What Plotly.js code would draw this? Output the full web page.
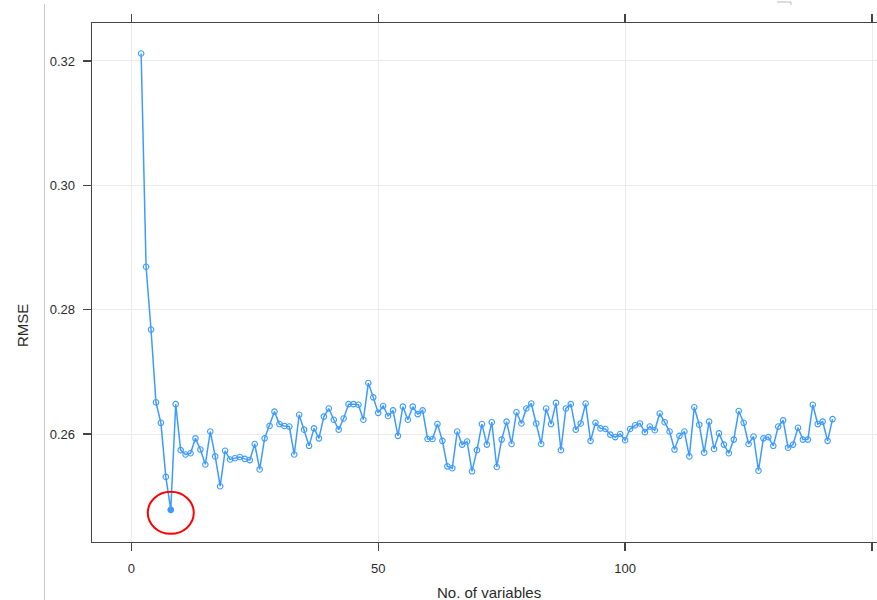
<!DOCTYPE html>
<html>
<head>
<meta charset="utf-8">
<script src="https://cdn.plot.ly/plotly-3.0.1.min.js"></script>
<style>html,body{margin:0;padding:0;background:#fff;}#chart{width:877px;height:600px;}</style>
</head>
<body>
<div id="chart"></div>
<script>
// Number of variables (x) and cross-validated RMSE (y)
const nVariables = [
  2,3,4,5,6,7,8,9,10,11,12,13,14,15,16,17,18,19,20,21,
  22,23,24,25,26,27,28,29,30,31,32,33,34,35,36,37,38,39,40,41,
  42,43,44,45,46,47,48,49,50,51,52,53,54,55,56,57,58,59,60,61,
  62,63,64,65,66,67,68,69,70,71,72,73,74,75,76,77,78,79,80,81,
  82,83,84,85,86,87,88,89,90,91,92,93,94,95,96,97,98,99,100,101,
  102,103,104,105,106,107,108,109,110,111,112,113,114,115,116,117,118,119,120,121,
  122,123,124,125,126,127,128,129,130,131,132,133,134,135,136,137,138,139,140,141,
  142
];
const rmse = [
  0.3212,0.2869,0.2768,0.2651,0.2618,0.2531,0.2478,0.2648,0.2574,0.2567,
  0.2569,0.2593,0.2575,0.2551,0.2604,0.2564,0.2516,0.2573,0.2559,0.2561,
  0.2563,0.2560,0.2558,0.2584,0.2543,0.2593,0.2613,0.2636,0.2616,0.2613,
  0.2612,0.2567,0.2631,0.2607,0.2581,0.2609,0.2593,0.2628,0.2641,0.2623,
  0.2607,0.2625,0.2648,0.2648,0.2647,0.2623,0.2682,0.2659,0.2634,0.2645,
  0.2629,0.2638,0.2597,0.2644,0.2623,0.2644,0.2632,0.2638,0.2592,0.2592,
  0.2616,0.2589,0.2548,0.2545,0.2604,0.2583,0.2588,0.2540,0.2574,0.2616,
  0.2583,0.2619,0.2547,0.2591,0.2620,0.2584,0.2635,0.2617,0.2641,0.2649,
  0.2617,0.2584,0.2641,0.2616,0.2650,0.2574,0.2641,0.2648,0.2607,0.2617,
  0.2649,0.2589,0.2618,0.2609,0.2608,0.2599,0.2595,0.2600,0.2590,0.2608,
  0.2614,0.2617,0.2603,0.2612,0.2606,0.2633,0.2619,0.2604,0.2575,0.2597,
  0.2604,0.2564,0.2643,0.2615,0.2570,0.2620,0.2576,0.2601,0.2583,0.2569,
  0.2591,0.2637,0.2618,0.2584,0.2596,0.2541,0.2593,0.2595,0.2581,0.2612,
  0.2622,0.2578,0.2583,0.2610,0.2591,0.2591,0.2647,0.2616,0.2620,0.2589,
  0.2624
];
const xTickVals = [0, 50, 100, 150];
const xTickText = ['0', '50', '100', ''];
const yTickVals = [0.26, 0.28, 0.30, 0.32];
const yTickText = ['0.26', '0.28', '0.30', '0.32'];

// best (minimum RMSE) model
let best = 0;
for (let i = 1; i < rmse.length; i++) if (rmse[i] < rmse[best]) best = i;

const blue = '#3d9bff';
const textCol = '#2b2b2b';

// layout geometry in pixels
const W = 877, H = 600, L = 92, R = 0, T = 23, B = 58;
const pw = W - L - R, ph = H - T - B;
const px = v => (v - L) / pw;          // pixel x -> paper
const py = v => (H - B - v) / ph;      // pixel y -> paper

const traces = [
  {
    x: nVariables, y: rmse, type: 'scatter', mode: 'lines+markers',
    line: {color: blue, width: 1.5},
    marker: {symbol: 'circle-open', size: 5.5, color: blue, line: {width: 1.1, color: blue}},
    hoverinfo: 'x+y', showlegend: false
  },
  {
    x: [nVariables[best]], y: [rmse[best]], type: 'scatter', mode: 'markers',
    marker: {symbol: 'circle', size: 6, color: blue},
    showlegend: false
  }
];

const layout = {
  width: W, height: H,
  margin: {l: L, r: R, t: T, b: B, pad: 0},
  paper_bgcolor: '#ffffff', plot_bgcolor: '#ffffff',
  font: {family: 'Liberation Sans, Arial, sans-serif', size: 13, color: textCol},
  showlegend: false,
  xaxis: {
    range: [-7.95, 151.0],
    tickmode: 'array', tickvals: xTickVals, ticktext: xTickText,
    ticks: 'outside', ticklen: 8, tickwidth: 1.3, tickcolor: '#444',
    showline: true, linecolor: '#444', linewidth: 1.3, mirror: 'ticks',
    showgrid: true, gridcolor: '#ebebeb', gridwidth: 1,
    zeroline: false, ticklabelstandoff: 6,
    tickfont: {size: 13, color: textCol}
  },
  yaxis: {
    range: [0.24263, 0.32611],
    tickmode: 'array', tickvals: yTickVals, ticktext: yTickText,
    ticks: 'outside', ticklen: 8, tickwidth: 1.3, tickcolor: '#444',
    showline: true, linecolor: '#444', linewidth: 1.3, mirror: false,
    showgrid: true, gridcolor: '#ebebeb', gridwidth: 1,
    zeroline: false, ticklabelstandoff: 5,
    tickfont: {size: 13, color: textCol}
  },
  annotations: [
    {text: 'RMSE', xref: 'paper', yref: 'paper', x: px(22), y: py(326),
     xanchor: 'center', yanchor: 'middle', textangle: -90, showarrow: false,
     font: {size: 15, color: textCol}},
    {text: 'No. of variables', xref: 'paper', yref: 'paper', x: px(489), y: py(592),
     xanchor: 'center', yanchor: 'middle', showarrow: false,
     font: {size: 15, color: textCol}}
  ],
  shapes: [
    {type: 'circle', xref: 'x', yref: 'y', xsizemode: 'pixel', ysizemode: 'pixel',
     xanchor: nVariables[best], yanchor: rmse[best],
     x0: -23, x1: 23, y0: -24, y1: 18,
     line: {color: '#ff0000', width: 2}, fillcolor: 'rgba(0,0,0,0)'},
    {type: 'line', xref: 'paper', yref: 'paper', x0: px(44.5), x1: px(44.5), y0: py(4), y1: py(600),
     line: {color: '#c8c8c8', width: 1}},
    {type: 'path', xref: 'paper', yref: 'paper',
     path: 'M ' + px(777) + ' ' + py(2) + ' L ' + px(791) + ' ' + py(2) + ' L ' + px(791) + ' ' + py(5),
     line: {color: '#bbbbbb', width: 1}}
  ]
};

Plotly.newPlot('chart', traces, layout, {displayModeBar: false, staticPlot: true});
</script>
</body>
</html>
